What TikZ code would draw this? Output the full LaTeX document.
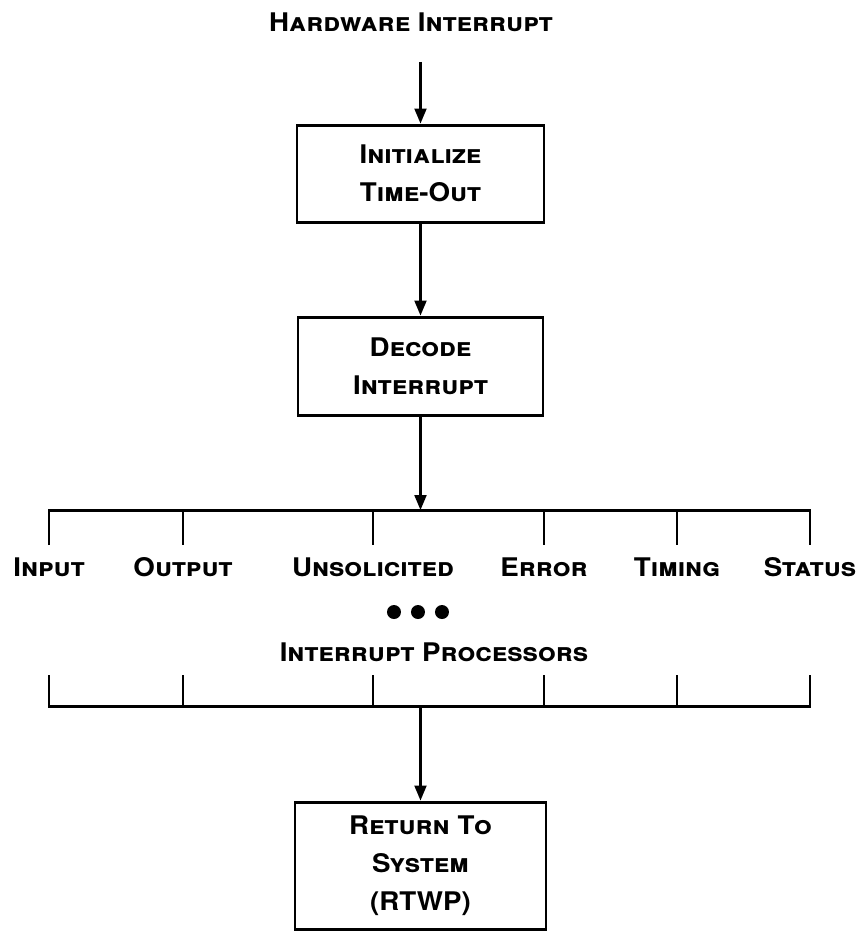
\documentclass[tikz,border=0pt]{standalone}
\usepackage{fontspec}
\setmainfont[FakeStretch=1.08]{TeX Gyre Heros}
\usetikzlibrary{arrows.meta}

\begin{document}
\begin{tikzpicture}[x=1cm, y=-1cm,
    font=\fontsize{7.3}{10.8}\selectfont\bfseries\scshape,
    >={Triangle[length=0.15cm, width=0.12cm]},
    stepbox/.style={draw, line width=0.85pt, align=center, inner sep=0pt},
    flow/.style={->, line width=0.6pt},
    bus/.style={line width=0.85pt},
    tap/.style={line width=0.6pt}]
  \useasboundingbox (0,0) rectangle (8.59,9.31);

  % top part
  \node (hw) at (4.11,0.22) {Hardware Interrupt};
  \node[stepbox, minimum width=2.47cm, minimum height=0.97cm] (init) at (4.205,1.735)
    {Initialize\\Time-Out};
  \node[stepbox, minimum width=2.45cm, minimum height=0.98cm] (dec) at (4.205,3.66)
    {Decode\\Interrupt};
  \draw[flow] ([yshift=-0.18cm]hw.south -| init.north) -- (init);
  \draw[flow] (init) -- (dec);

  % processors
  \foreach \x/\name/\txt in {0.49/in/Input, 1.83/out/Output, 3.73/uns/Unsolicited,
      5.44/err/Error, 6.77/tim/Timing, 8.10/sta/Status} {
    \coordinate (\name-top) at (\x,5.10);
    \coordinate (\name-low) at (\x,6.75);
    \coordinate (\name-bot) at (\x,7.06);
    \node[anchor=north] (\name) at (\x,5.45) {\txt};
  }
  \draw[bus] (in.north) -- (in-top) -- (sta-top) -- (sta.north);
  \draw[bus] (in-low) -- (in-bot) -- (sta-bot) -- (sta-low);
  \foreach \name in {out, uns, err, tim} {
    \draw[tap] (\name-top) -- (\name.north);
    \draw[tap] (\name-low) -- (\name-bot);
  }
  \draw[flow] (dec) -- (dec.south |- in-top);

  \foreach \x in {3.94, 4.18, 4.42}
    \fill (\x,6.12) circle (0.07);
  \node (proc) at (4.34,6.52) {Interrupt Processors};

  % return
  \node[stepbox, minimum width=2.51cm, minimum height=1.27cm] (ret) at (4.205,8.655)
    {Return To\\System\\(RTWP)};
  \draw[flow] (ret.north |- in-bot) -- (ret);
\end{tikzpicture}
\end{document}
